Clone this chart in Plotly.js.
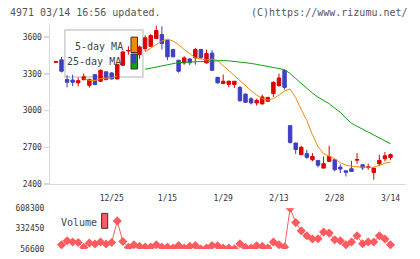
<!DOCTYPE html>
<html><head><meta charset="utf-8">
<script src="https://cdn.plot.ly/plotly-3.0.1.min.js"></script>
<style>html,body{margin:0;padding:0;background:#fff}#c{width:420px;height:259px}</style>
</head><body><div id="c"></div><script>
const openP  = [3395,3415,3254,3250,3227,3253,3207,3294,3240,3317,3308,3259,3371,3488,3458,3458,3507,3526,3589,3622,3573,3499,3412,3390,3422,3432,3499,3390,3470,3272,3222,3215,3213,3190,3135,3097,3063,3055,3076,3139,3205,3327,2877,2735,2640,2648,2598,2593,2530,2585,2598,2538,2508,2525,2595,2557,2535,2494,2566,2606,2617];
const highP  = [3400,3440,3290,3294,3270,3303,3262,3300,3336,3322,3315,3382,3490,3526,3465,3532,3615,3625,3695,3690,3580,3505,3415,3445,3430,3513,3505,3499,3494,3276,3295,3245,3242,3200,3140,3110,3097,3131,3112,3240,3303,3340,2880,2738,2712,2680,2652,2595,2625,2713,2600,2560,2512,2590,2653,2560,2566,2532,2640,2662,2648];
const lowP   = [3395,3312,3190,3200,3199,3248,3188,3208,3235,3248,3255,3255,3365,3458,3385,3423,3487,3520,3585,3499,3412,3435,3310,3375,3371,3376,3425,3385,3325,3220,3215,3190,3185,3075,3065,3050,3041,3050,3070,3112,3195,3172,2730,2645,2636,2605,2585,2535,2528,2580,2503,2490,2462,2500,2566,2515,2517,2435,2545,2585,2598];
const closeP = [3400,3322,3232,3232,3245,3276,3254,3213,3330,3253,3259,3376,3480,3492,3390,3521,3595,3614,3655,3548,3440,3440,3322,3431,3392,3499,3432,3466,3330,3227,3240,3240,3240,3080,3068,3063,3084,3112,3108,3231,3267,3190,2740,2682,2700,2618,2625,2553,2566,2625,2517,2522,2496,2503,2600,2532,2540,2530,2593,2630,2640];
const ma5 = [null,null,null,null,null,3262,3248,3245,3262,3265,3268,3285,null,null,null,null,3482,3512,3540,3569,3585,3569,3540,3499,3467,3430,3422,3415,3422,3409,3368,3327,3278,3241,3200,3163,3127,3098,3086,3098,3127,3160,3176,3106,3008,2918,2803,2705,2648,2627,2607,2574,2553,2545,2539,2537,2537,2537,2553,2570,2578];
const ma25 = [null,null,null,null,null,null,null,null,null,null,null,null,null,null,null,null,3338,3348,3356,3367,3376,3386,3393,3395,3397,3398,3401,3405,3409,3409,3409,3407,3403,3399,3394,3386,3378,3368,3360,3352,3344,3335,3303,3262,3221,3180,3143,3110,3086,3057,3020,2987,2938,2897,2872,2848,2823,2799,2774,2750,2729];
const volume = [null,114000,168300,150800,145400,78100,137300,123900,150800,123900,145400,437400,158900,78100,114500,91600,83500,83500,114500,83500,83500,70000,105000,70000,91600,105000,56600,70000,105000,101000,70000,70000,58000,128000,78100,70000,101000,91600,70000,150800,114500,83500,608300,414500,302800,235600,191200,195200,285400,271900,181700,168300,114500,150800,235600,128000,150800,150800,235600,191200,114500];
const labelIdx  = [10,20,30,40,50,60];
const labelText = ['12/25','1/15','1/29','2/13','2/28','3/14'];
const priceTicks = [2400,2700,3000,3300,3600];
const volTicks = [56600,332450,608300];
const volTickText = ['56600','332450','608300'];

const idx = closeP.map((_, i) => i);
const FONT = 'DejaVu Sans Mono, monospace';
const AX = '#d9d9d9';
const XR = [-1.06, 62.78];

const traces = [
  {type:'candlestick', x:idx, open:openP, high:highP, low:lowP, close:closeP,
   increasing:{line:{color:'#dd0000', width:1}, fillcolor:'#dd0000'},
   decreasing:{line:{color:'#3f3fc4', width:1}, fillcolor:'#3f3fc4'},
   whiskerwidth:0, hoverinfo:'skip', showlegend:false},
  {type:'scatter', mode:'lines', x:idx, y:ma5, line:{color:'#f08c00', width:1}, hoverinfo:'skip', showlegend:false},
  {type:'scatter', mode:'lines', x:idx, y:ma25, line:{color:'#10a010', width:1}, hoverinfo:'skip', showlegend:false},
  {type:'scatter', mode:'lines+markers', x:idx, y:volume, xaxis:'x4', yaxis:'y2',
   line:{color:'#ff5a5f', width:1}, marker:{symbol:'diamond', size:7, color:'#ff5a5f'}, hoverinfo:'skip', showlegend:false}
];

const gridTicks = [0,1,2,3,4,5,6,7,8,9,10,11];
const layout = {
  width:420, height:259, margin:{l:50, r:14, t:25, b:10},
  paper_bgcolor:'#fff', plot_bgcolor:'rgba(0,0,0,0)', showlegend:false,
  font:{family:FONT, size:8, color:'#333'},
  boxgap:0.12,
  xaxis:{domain:[0,1], anchor:'y', range:XR, tickvals:labelIdx, ticktext:labelText,
    ticks:'outside', ticklen:6, tickcolor:'rgba(0,0,0,0)', showgrid:false, zeroline:false,
    showline:true, linecolor:AX, linewidth:1.5, rangeslider:{visible:false}, fixedrange:true,
    tickfont:{family:FONT, size:8, color:'#333'}},
  xaxis2:{overlaying:'x', anchor:'y', side:'bottom', range:[0,11], tickvals:gridTicks, ticks:'inside', ticklen:4,
    tickcolor:AX, tickwidth:1.5, showticklabels:false, showgrid:false, zeroline:false, showline:false},
  xaxis3:{overlaying:'x', anchor:'y', side:'bottom', range:[0,11], tickvals:gridTicks, ticks:'outside', ticklen:5,
    tickcolor:AX, tickwidth:1.5, showticklabels:false, showgrid:false, zeroline:false, showline:false},
  yaxis:{domain:[0.2902,1], anchor:'x', range:[2400,3700], tickvals:priceTicks, ticks:'outside', ticklen:5,
    tickcolor:AX, tickwidth:1.5, showline:true, linecolor:AX, linewidth:1.5, showgrid:false, zeroline:false,
    tickfont:{family:FONT, size:8, color:'#333'}},
  yaxis3:{overlaying:'y', anchor:'x', range:[2400,3700], tickvals:priceTicks, ticks:'inside', ticklen:3,
    tickcolor:AX, tickwidth:1.5, showticklabels:false, showline:false, showgrid:false, zeroline:false},
  xaxis4:{domain:[0,1], anchor:'y2', range:XR, visible:false},
  yaxis2:{domain:[0,0.1817], anchor:'x4', range:[56600,608300], tickvals:volTicks, ticktext:volTickText,
    ticks:'outside', ticklen:3, tickcolor:'rgba(0,0,0,0)', showline:false, showgrid:false, zeroline:false,
    tickfont:{family:FONT, size:8, color:'#333'}},
  shapes:[
    {type:'rect', layer:'below', xref:'paper', yref:'paper', x0:0.042, x1:0.261, y0:0.768, y1:0.978,
     fillcolor:'#fff', line:{color:'#cccccc', width:1.5}},
    {type:'rect', layer:'below', xref:'paper', yref:'paper', x0:0.2275, x1:0.2458, y0:0.877, y1:0.946,
     fillcolor:'#f08c00', line:{color:'#333', width:1}},
    {type:'rect', layer:'below', xref:'paper', yref:'paper', x0:0.2275, x1:0.2458, y0:0.8036, y1:0.8705,
     fillcolor:'#10a010', line:{color:'#333', width:1}},
    {type:'rect', layer:'above', xref:'paper', yref:'paper', x0:0.145, x1:0.162, y0:0.0924, y1:0.159,
     fillcolor:'#ff5a5f', line:{color:'#333', width:1}}
  ],
  annotations:[
    {xref:'paper', yref:'paper', x:-0.118, y:1.058, xanchor:'left', yanchor:'middle', showarrow:false,
     text:'4971 03/14 16:56 updated.', font:{family:FONT, size:10, color:'#555'}},
    {xref:'paper', yref:'paper', x:1.011, y:1.058, xanchor:'right', yanchor:'middle', showarrow:false,
     text:'(C)https://www.rizumu.net/', font:{family:FONT, size:10, color:'#555'}},
    {xref:'paper', yref:'paper', x:0.2107, y:0.906, xanchor:'right', yanchor:'middle', showarrow:false,
     text:'5-day MA', font:{family:FONT, size:10, color:'#444'}},
    {xref:'paper', yref:'paper', x:0.2037, y:0.835, xanchor:'right', yanchor:'middle', showarrow:false,
     text:'25-day MA', font:{family:FONT, size:10, color:'#444'}},
    {xref:'paper', yref:'paper', x:0.0253, y:0.1205, xanchor:'left', yanchor:'middle', showarrow:false,
     text:'Volume', font:{family:FONT, size:10, color:'#444'}}
  ]
};
Plotly.newPlot('c', traces, layout, {staticPlot:true, displayModeBar:false});
</script></body></html>
